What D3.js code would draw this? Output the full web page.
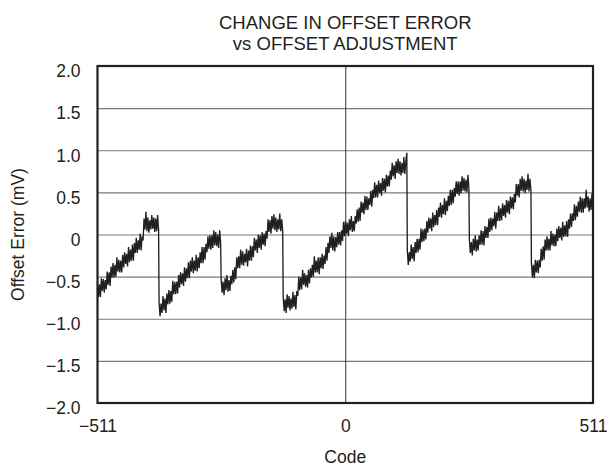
<!DOCTYPE html>
<html>
<head>
<meta charset="utf-8">
<script src="https://cdn.jsdelivr.net/npm/d3@7"></script>
<style>
  html, body { margin: 0; padding: 0; background: #ffffff; }
  svg { display: block; }
  text { font-family: "Liberation Sans", Arial, Helvetica, sans-serif; fill: #231f20; }
</style>
</head>
<body>
<svg id="chart" width="610" height="466"></svg>
<script>
// ---- data ----
const titleLines = ["CHANGE IN OFFSET ERROR", "vs OFFSET ADJUSTMENT"];
const xLabel = "Code";
const yLabel = "Offset Error (mV)";
const xTicks = [-511, 0, 511];
const xTickLabels = ["\u2212511", "0", "511"];
const yTicks = [2.0, 1.5, 1.0, 0.5, 0, -0.5, -1.0, -1.5, -2.0];
const yTickLabels = ["2.0", "1.5", "1.0", "0.5", "0", "\u22120.5", "\u22121.0", "\u22121.5", "\u22122.0"];
const xGrid = [0];

// sawtooth segments: first and last code of each segment
const segStart = [-511, -384, -256, -128, 128, 256, 384];
const segEnd   = [-385, -257, -129,  127, 255, 383, 511];

// offset error (mV), sampled evenly (about every 2 codes) across each segment
const seg1 = [-0.58,-0.74,-0.59,-0.74,-0.52,-0.67,-0.53,-0.69,-0.54,-0.65,-0.44,-0.60,-0.45,-0.61,-0.38,-0.51,
              -0.34,-0.51,-0.36,-0.50,-0.27,-0.44,-0.30,-0.45,-0.31,-0.45,-0.24,-0.39,-0.21,-0.35,-0.23,-0.38,
              -0.15,-0.33,-0.18,-0.31,-0.12,-0.31,-0.10,-0.22,-0.04,-0.22,-0.07,-0.18,0.01,-0.19,-0.02,-0.07,
              0.19,0.06,0.27,0.04,0.20,0.02,0.17,0.06,0.23,0.07,0.20,0.03,0.19,0.04,0.23,0.05];
const seg2 = [-0.81,-0.97,-0.82,-0.93,-0.73,-0.90,-0.76,-0.93,-0.70,-0.83,-0.66,-0.82,-0.67,-0.80,-0.55,-0.71,
              -0.56,-0.71,-0.56,-0.70,-0.48,-0.63,-0.45,-0.59,-0.46,-0.61,-0.39,-0.56,-0.40,-0.52,-0.33,-0.52,
              -0.31,-0.44,-0.27,-0.46,-0.31,-0.43,-0.24,-0.44,-0.27,-0.40,-0.21,-0.34,-0.15,-0.34,-0.15,-0.30,
              -0.11,-0.21,-0.02,-0.17,-0.01,-0.18,-0.01,-0.16,0.05,-0.13,0.03,-0.14,0.00,-0.16,0.05,-0.10];
const seg3 = [-0.53,-0.69,-0.56,-0.72,-0.52,-0.66,-0.48,-0.68,-0.54,-0.67,-0.49,-0.59,-0.42,-0.57,-0.39,-0.53,
              -0.27,-0.40,-0.26,-0.40,-0.18,-0.36,-0.20,-0.37,-0.23,-0.33,-0.17,-0.38,-0.19,-0.31,-0.13,-0.31,
              -0.14,-0.27,-0.04,-0.19,-0.06,-0.22,0.00,-0.16,-0.01,-0.18,0.03,-0.12,0.01,-0.14,0.04,-0.05,
              0.18,0.03,0.17,0.01,0.22,0.07,0.24,0.05,0.20,0.03,0.18,0.06,0.25,0.04,0.18,0.04];
const seg4 = [-0.74,-0.91,-0.77,-0.93,-0.71,-0.87,-0.73,-0.90,-0.76,-0.88,-0.68,-0.86,-0.72,-0.89,-0.67,-0.73,
              -0.50,-0.66,-0.51,-0.65,-0.42,-0.60,-0.46,-0.62,-0.48,-0.63,-0.42,-0.58,-0.40,-0.51,-0.36,-0.50,
              -0.26,-0.45,-0.31,-0.45,-0.27,-0.47,-0.27,-0.40,-0.23,-0.41,-0.25,-0.35,-0.15,-0.31,-0.10,-0.22,
              -0.02,-0.16,0.02,-0.19,-0.02,-0.20,-0.03,-0.15,0.03,-0.12,0.03,-0.13,0.05,-0.08,0.15,-0.02,
              0.16,0.01,0.14,-0.02,0.18,0.05,0.22,0.03,0.16,0.04,0.22,0.13,0.30,0.15,0.32,0.16,
              0.39,0.26,0.38,0.24,0.46,0.29,0.45,0.29,0.43,0.35,0.52,0.33,0.53,0.43,0.62,0.44,
              0.59,0.44,0.64,0.49,0.61,0.46,0.67,0.52,0.66,0.50,0.71,0.57,0.70,0.57,0.76,0.65,
              0.85,0.69,0.82,0.66,0.87,0.73,0.90,0.72,0.87,0.70,0.85,0.73,0.92,0.72,0.87,0.97];
const seg5 = [-0.19,-0.36,-0.21,-0.32,-0.12,-0.29,-0.15,-0.32,-0.09,-0.22,-0.05,-0.21,-0.05,-0.18,0.07,-0.09,
              0.06,-0.08,0.07,-0.06,0.16,0.02,0.20,0.07,0.19,0.04,0.26,0.09,0.23,0.11,0.29,0.11,
              0.32,0.21,0.38,0.20,0.35,0.24,0.43,0.23,0.40,0.28,0.46,0.34,0.53,0.35,0.53,0.37,
              0.55,0.45,0.63,0.48,0.63,0.46,0.63,0.49,0.69,0.52,0.67,0.51,0.65,0.50,0.71,0.56];
const seg6 = [-0.06,-0.22,-0.09,-0.25,-0.05,-0.19,-0.01,-0.20,-0.06,-0.19,-0.01,-0.12,0.05,-0.12,0.04,-0.13,
              0.10,-0.04,0.09,-0.04,0.19,0.03,0.20,0.05,0.19,0.10,0.27,0.07,0.26,0.16,0.34,0.16,
              0.31,0.17,0.37,0.22,0.35,0.20,0.41,0.26,0.40,0.24,0.45,0.31,0.44,0.30,0.48,0.38,
              0.60,0.46,0.60,0.44,0.66,0.52,0.69,0.51,0.66,0.49,0.64,0.53,0.72,0.51,0.66,0.52];
const seg7 = [-0.34,-0.51,-0.36,-0.52,-0.30,-0.45,-0.31,-0.46,-0.30,-0.39,-0.17,-0.31,-0.14,-0.30,-0.06,-0.19,
              -0.02,-0.19,-0.05,-0.19,0.04,-0.13,0.01,-0.14,0.00,-0.14,0.07,-0.08,0.10,-0.04,0.08,-0.07,
              0.15,-0.03,0.11,-0.02,0.16,-0.03,0.18,0.07,0.25,0.09,0.25,0.16,0.36,0.17,0.34,0.21,
              0.39,0.27,0.45,0.26,0.43,0.26,0.43,0.31,0.53,0.32,0.45,0.27,0.43,0.29,0.49,0.31];
const segValues = [seg1, seg2, seg3, seg4, seg5, seg6, seg7];

// ---- layout ----
const W = 610, H = 466;
const plot = { left: 97.5, right: 593, top: 66, bottom: 403 };

const svg = d3.select("#chart");

const x = d3.scaleLinear().domain([-511, 511]).range([plot.left, plot.right]);
const y = d3.scaleLinear().domain([-2, 2]).range([plot.bottom, plot.top]);

// build points
const points = [];
segValues.forEach((vals, k) => {
  const s = segStart[k], e = segEnd[k], n = vals.length;
  vals.forEach((v, i) => {
    points.push({ code: s + (e - s) * i / (n - 1), v: v });
  });
});

// horizontal gridlines
svg.append("g")
  .attr("transform", `translate(${plot.left},0)`)
  .call(d3.axisLeft(y).tickValues(yTicks).tickSize(-(plot.right - plot.left)).tickFormat(""))
  .call(g => g.select(".domain").remove())
  .call(g => g.selectAll(".tick line").attr("stroke", "#7a7a7a").attr("stroke-width", 1.2));

// vertical gridline at code 0
svg.append("g")
  .attr("transform", `translate(0,${plot.bottom})`)
  .call(d3.axisBottom(x).tickValues(xGrid).tickSize(-(plot.bottom - plot.top)).tickFormat(""))
  .call(g => g.select(".domain").remove())
  .call(g => g.selectAll(".tick line").attr("stroke", "#333").attr("stroke-width", 1));

// data line
const line = d3.line().x(d => x(d.code)).y(d => y(d.v));
svg.append("path")
  .datum(points)
  .attr("d", line)
  .attr("fill", "none")
  .attr("stroke", "#231f20")
  .attr("stroke-width", 1.35)
  .attr("stroke-linejoin", "miter");

// frame
svg.append("rect")
  .attr("x", plot.left).attr("y", plot.top)
  .attr("width", plot.right - plot.left).attr("height", plot.bottom - plot.top)
  .attr("fill", "none").attr("stroke", "#231f20").attr("stroke-width", 2.2);

// y tick labels
const yAxis = svg.append("g")
  .attr("transform", `translate(${plot.left},0)`)
  .call(d3.axisLeft(y).tickValues(yTicks).tickSize(0).tickPadding(17)
        .tickFormat((d, i) => yTickLabels[i]))
  .call(g => g.select(".domain").remove());
yAxis.selectAll(".tick text")
  .attr("font-size", 17.5)
  .attr("fill", "#231f20")
  .attr("font-family", "Liberation Sans, Arial, sans-serif")
  .attr("dy", "0.62em");

// x tick labels
const xAxis = svg.append("g")
  .attr("transform", `translate(0,${plot.bottom})`)
  .call(d3.axisBottom(x).tickValues(xTicks).tickSize(0).tickPadding(17)
        .tickFormat((d, i) => xTickLabels[i]))
  .call(g => g.select(".domain").remove());
xAxis.selectAll(".tick text")
  .attr("font-size", 17.5)
  .attr("fill", "#231f20")
  .attr("font-family", "Liberation Sans, Arial, sans-serif");

// title
svg.append("g").selectAll("text")
  .data(titleLines)
  .join("text")
  .attr("x", (plot.left + plot.right) / 2)
  .attr("y", (d, i) => 28.5 + i * 21)
  .attr("text-anchor", "middle")
  .attr("font-size", 18.5)
  .text(d => d);

// x label
svg.append("text")
  .attr("x", (plot.left + plot.right) / 2)
  .attr("y", 463)
  .attr("text-anchor", "middle")
  .attr("font-size", 17.5)
  .text(xLabel);

// y label
svg.append("text")
  .attr("transform", `translate(24,${(plot.top + plot.bottom) / 2}) rotate(-90)`)
  .attr("text-anchor", "middle")
  .attr("font-size", 17.5)
  .text(yLabel);
</script>
</body>
</html>
